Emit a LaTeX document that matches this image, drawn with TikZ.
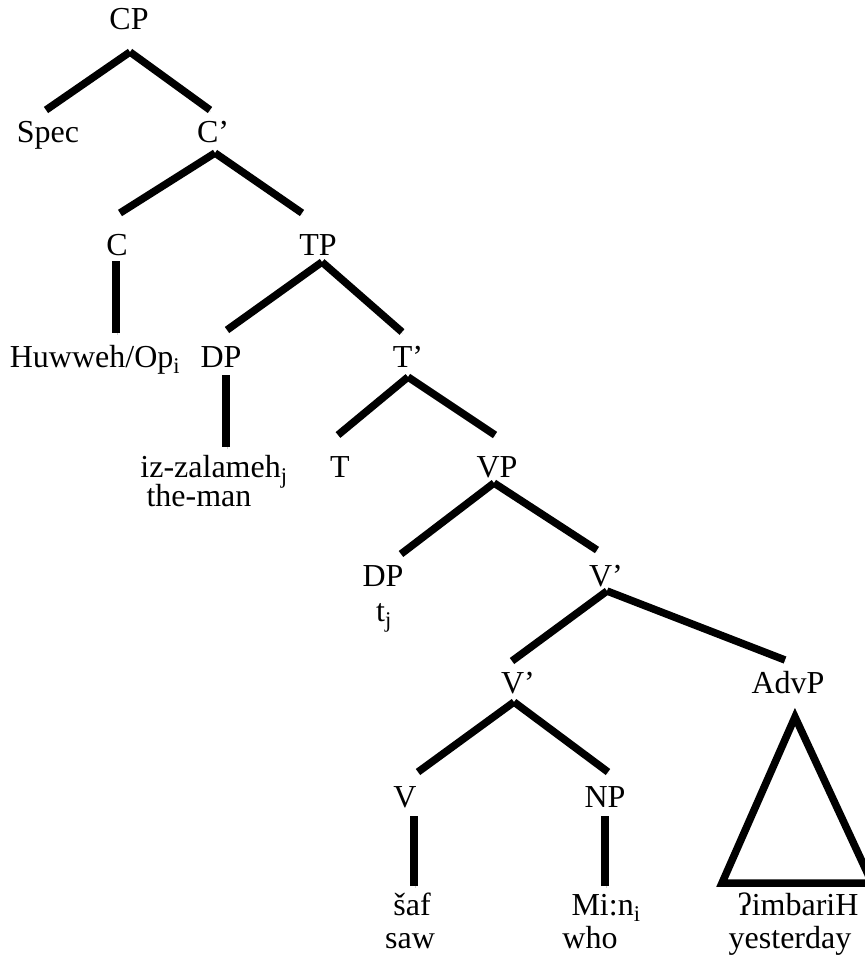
\documentclass[tikz,border=0pt]{standalone}
\usepackage{fontspec}
\setmainfont{Liberation Serif}
\usetikzlibrary{calc}

\begin{document}
\begin{tikzpicture}[
    x=1pt,y=-1pt,
    cat/.style={font=\fontsize{32}{36}\selectfont,inner sep=0pt,anchor=base},
    branch/.style={line width=7.5pt,preaction={draw=black!18,transform canvas={shift={(0.7pt,-2pt)}}}},
    roof/.style={branch,line join=miter}
  ]
    \useasboundingbox (0,0) rectangle (864,960);

    \node[cat] (cp) at (129,30) {CP};
    \node[cat] (spec) at (48,143) {Spec};
    \node[cat] (cbar) at (213,143) {C’};
    \node[cat] (c) at (117,255) {C};
    \node[cat] (tp) at (318,255) {TP};
    \node[cat] (huwweh) at (95,367) {Huwweh/Op\textsubscript{i}};
    \node[cat] (dpsubj) at (221,367) {DP};
    \node[cat] (tbar) at (408,367) {T’};
    \node[cat] (zalameh) at (214,477) {iz-zalameh\textsubscript{j}};
    \node[cat] (theman) at (199,506) {the-man};
    \node[cat] (t) at (340,477) {T};
    \node[cat] (vp) at (497,477) {VP};
    \node[cat] (dptrace) at (383,586) {DP};
    \node[cat] (trace) at (384,621) {t\textsubscript{j}};
    \node[cat] (vbarhi) at (606,586) {V’};
    \node[cat] (vbarlo) at (518,693) {V’};
    \node[cat] (advp) at (788,693) {AdvP};
    \node[cat] (v) at (405,807) {V};
    \node[cat] (np) at (605,807) {NP};
    \node[cat] (saf) at (412,915) {šaf};
    \node[cat] (saw) at (410,948) {saw};
    \node[cat] (min) at (606,915) {Mi:n\textsubscript{i}};
    \node[cat] (who) at (590,948) {who};
    \node[cat] (imbari) at (798,915) {ʔimbariH};
    \node[cat] (yesterday) at (790,948) {yesterday};

    \draw[branch] ($(cp.base)+(1,22)$) -- ($(spec.base)+(-2,-33)$);
    \draw[branch] ($(cp.base)+(1,22)$) -- ($(cbar.base)+(-3,-33)$);
    \draw[branch] ($(cbar.base)+(2,10)$) -- ($(c.base)+(3,-42)$);
    \draw[branch] ($(cbar.base)+(2,10)$) -- ($(tp.base)+(-16,-42)$);
    \draw[branch] ($(c.base)+(-1,6)$) -- ($(huwweh.base)+(21,-34)$);
    \draw[branch] ($(tp.base)+(4,7)$) -- ($(dpsubj.base)+(6,-37)$);
    \draw[branch] ($(tp.base)+(4,7)$) -- ($(tbar.base)+(-6,-35)$);
    \draw[branch] ($(dpsubj.base)+(5,8)$) -- ($(zalameh.base)+(12,-30)$);
    \draw[branch] ($(tbar.base)+(0,10)$) -- ($(t.base)+(-2,-42)$);
    \draw[branch] ($(tbar.base)+(0,10)$) -- ($(vp.base)+(-2,-42)$);
    \draw[branch] ($(vp.base)+(-3,6)$) -- ($(dptrace.base)+(18,-32)$);
    \draw[branch] ($(vp.base)+(-3,6)$) -- ($(vbarhi.base)+(-9,-36)$);
    \draw[branch] ($(vbarhi.base)+(1,5)$) -- ($(vbarlo.base)+(-6,-32)$);
    \draw[branch] ($(vbarhi.base)+(1,5)$) -- ($(advp.base)+(-3,-33)$);
    \draw[branch] ($(vbarlo.base)+(-4,9)$) -- ($(v.base)+(13,-35)$);
    \draw[branch] ($(vbarlo.base)+(-4,9)$) -- ($(np.base)+(3,-35)$);
    \draw[branch] ($(v.base)+(9,9)$) -- ($(saf.base)+(2,-29)$);
    \draw[branch] ($(np.base)+(0,9)$) -- ($(min.base)+(-1,-29)$);
    \draw[roof] ($(advp.base)+(7,24)$) -- ($(advp.base)+(-66,190)$) -- ($(advp.base)+(84,190)$) -- cycle;
\end{tikzpicture}
\end{document}
